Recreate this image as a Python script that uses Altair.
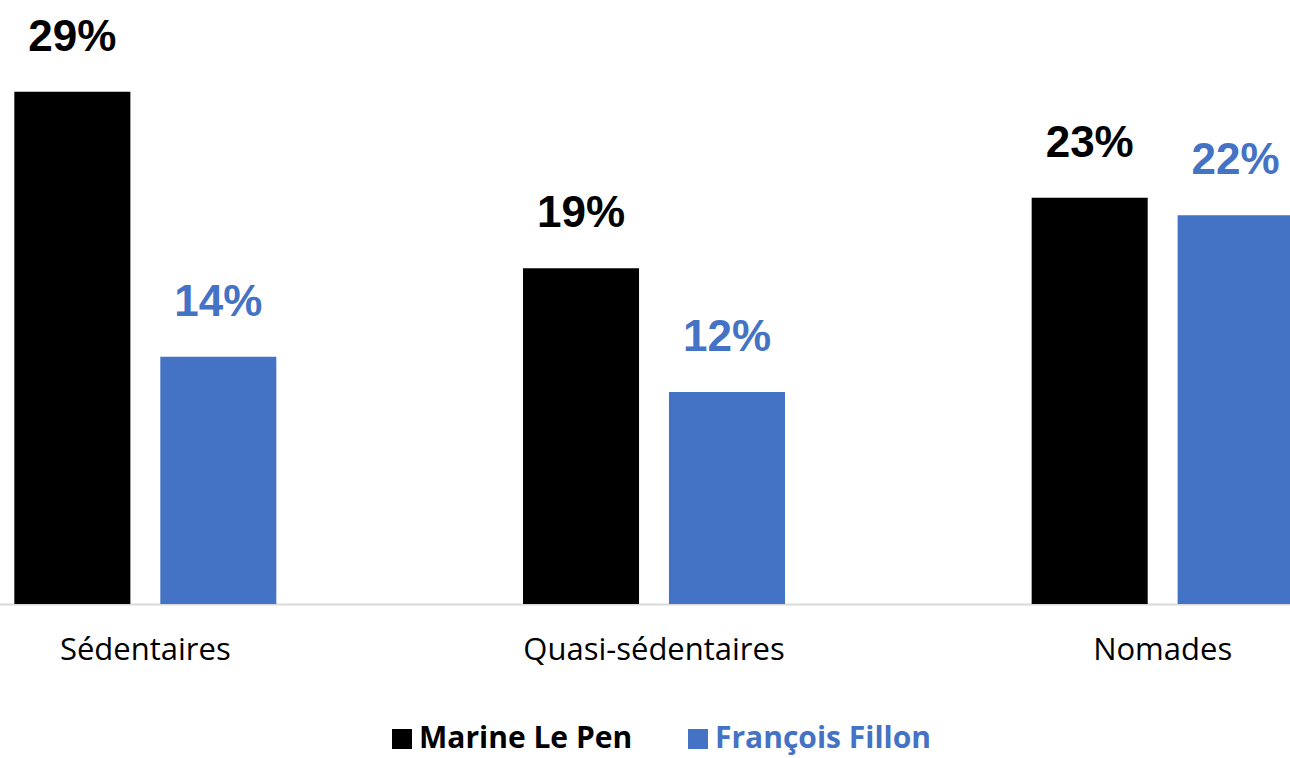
import altair as alt
import pandas as pd

categories = ["Sédentaires", "Quasi-sédentaires", "Nomades"]
candidates = ["Marine Le Pen", "François Fillon"]
lepen = [29, 19, 23]
fillon = [14, 12, 22]
colors = ["#000000", "#4472C4"]

rows = []
for i, c in enumerate(categories):
    for cand, vals in zip(candidates, [lepen, fillon]):
        rows.append({"cat": c, "cand": cand, "val": vals[i], "label": f"{vals[i]}%"})
df = pd.DataFrame(rows)

color_scale = alt.Scale(domain=candidates, range=colors)

base = alt.Chart(df).encode(
    x=alt.X(
        "cat:N",
        sort=categories,
        scale=alt.Scale(range=[-109, 1417], paddingInner=0, paddingOuter=0),
        axis=alt.Axis(
            title=None,
            labelAngle=0,
            ticks=False,
            domainColor="#d9d9d9",
            domainWidth=2,
            labelFont="Open Sans",
            labelFontSize=31,
            labelColor="#000000",
            labelPadding=31,
            labelLimit=0,
        ),
    ),
    xOffset=alt.XOffset(
        "cand:N",
        sort=candidates,
        scale=alt.Scale(paddingInner=0.205, paddingOuter=0.845),
    ),
    y=alt.Y("val:Q", scale=alt.Scale(domain=[0, 30]), axis=None),
)

bars = base.mark_bar().encode(
    color=alt.Color(
        "cand:N",
        scale=color_scale,
        sort=candidates,
        legend=alt.Legend(
            title=None,
            orient="none",
            legendX=387,
            legendY=650,
            direction="horizontal",
            symbolType="square",
            symbolSize=400,
            symbolStrokeWidth=0,
            symbolOpacity=1,
            labelFont="Open Sans",
            labelFontWeight="bold",
            labelFontSize=30,
            labelLimit=0,
            labelColor=alt.ExprRef("datum.label == 'François Fillon' ? '#4472C4' : '#000000'"),
            labelOffset=2,
            columnPadding=50,
        ),
    )
)

text = base.mark_text(
    dy=-41,
    baseline="alphabetic",
    font="Liberation Sans",
    fontWeight="bold",
    fontSize=44,
).encode(
    text=alt.Text("label:N"),
    color=alt.Color("cand:N", scale=color_scale, legend=None),
)

chart = (
    alt.layer(bars, text)
    .properties(
        width=1290,
        height=530,
        autosize="none",
        padding={"left": 0, "top": 74, "right": 0, "bottom": 154},
        background="white",
    )
    .configure_view(stroke=None)
)

chart.save("out.html", embed_options={"renderer": "svg", "actions": False})
